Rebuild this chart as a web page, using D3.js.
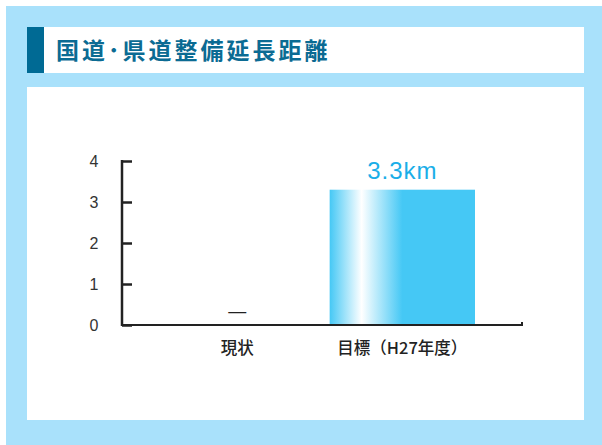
<!DOCTYPE html>
<html>
<head>
<meta charset="utf-8">
<script src="https://cdn.jsdelivr.net/npm/d3@7"></script>
<style>
  body { margin: 0; padding: 0; background: #fff; }
  svg { display: block; }
</style>
</head>
<body>
<div id="chart"></div>
<script>
// chart data
var categories = ["現状", "目標（H27年度）"];
var values = [0, 3.3];
var valueLabels = ["—", "3.3km"];
var yTicks = [0, 1, 2, 3, 4];
var title = "国道･県道整備延長距離";

var width = 602,
    height = 445;

var svg = d3.select("#chart").append("svg")
    .attr("width", width)
    .attr("height", height);

var defs = svg.append("defs");
var grad = defs.append("linearGradient")
    .attr("id", "barGrad")
    .attr("x1", "0%").attr("x2", "100%")
    .attr("y1", "0%").attr("y2", "0%");
grad.append("stop").attr("offset", "0%").attr("stop-color", "#45c8f5");
grad.append("stop").attr("offset", "22%").attr("stop-color", "#ffffff");
grad.append("stop").attr("offset", "50%").attr("stop-color", "#45c8f5");
grad.append("stop").attr("offset", "100%").attr("stop-color", "#45c8f5");

// frame
svg.append("rect")
    .attr("x", 6).attr("y", 6)
    .attr("width", width - 6).attr("height", height - 6)
    .style("fill", "#a9e1fb");

// title box
svg.append("rect")
    .attr("x", 27).attr("y", 27)
    .attr("width", 557).attr("height", 46)
    .style("fill", "#fff");
svg.append("rect")
    .attr("x", 27).attr("y", 27)
    .attr("width", 17).attr("height", 46)
    .style("fill", "#006a94");
svg.append("text")
    .attr("x", 56).attr("y", 49)
    .attr("dominant-baseline", "central")
    .style("font-family", "'Noto Sans CJK JP', sans-serif")
    .style("font-size", "23px")
    .style("font-weight", 700)
    .style("letter-spacing", "3px")
    .style("fill", "#0b6b93")
    .text(title);

// chart panel
svg.append("rect")
    .attr("x", 27).attr("y", 87)
    .attr("width", 557).attr("height", 333)
    .style("fill", "#fff");

var x = d3.scaleBand()
    .domain(categories)
    .range([164.5, 475])
    .paddingInner(0.12);

var y = d3.scaleLinear()
    .domain([0, 4])
    .range([325, 161]);

var g = svg.append("g");

// bars
g.selectAll(".bar").data(values)
  .enter().append("rect")
    .attr("class", "bar")
    .attr("x", function(d, i) { return x(categories[i]); })
    .attr("y", function(d) { return y(d); })
    .attr("width", x.bandwidth())
    .attr("height", function(d) { return y(0) - y(d); })
    .style("fill", "url(#barGrad)");

// value labels
g.selectAll(".val").data(values)
  .enter().append("text")
    .attr("class", "val")
    .attr("x", function(d, i) { return x(categories[i]) + x.bandwidth() / 2; })
    .attr("y", function(d, i) { return i === 0 ? y(d) - 8 : y(d) - 11; })
    .attr("text-anchor", "middle")
    .style("font-family", "'Liberation Sans', Arial, sans-serif")
    .style("font-size", function(d, i) { return i === 0 ? "18px" : "24px"; })
    .style("letter-spacing", function(d, i) { return i === 0 ? "0px" : "1px"; })
    .style("fill", function(d, i) { return i === 0 ? "#222" : "#1aaee8"; })
    .text(function(d, i) { return valueLabels[i]; });

// y axis
var yAxis = d3.axisRight(y).tickValues(yTicks).tickSize(10).tickFormat("");
var ya = g.append("g")
    .attr("transform", "translate(122,0)")
    .call(yAxis);
ya.select(".domain").remove();
ya.selectAll(".tick line").style("stroke", "#222").style("stroke-width", 2.5);

g.append("line")
    .attr("x1", 122).attr("x2", 122)
    .attr("y1", y(4) - 1).attr("y2", y(0) + 1)
    .style("stroke", "#222").style("stroke-width", 2.5);

g.selectAll(".ylab").data(yTicks)
  .enter().append("text")
    .attr("class", "ylab")
    .attr("x", 94)
    .attr("y", function(d) { return y(d); })
    .attr("dominant-baseline", "central")
    .attr("text-anchor", "middle")
    .style("font-family", "'Liberation Sans', Arial, sans-serif")
    .style("font-size", "16px")
    .style("fill", "#333")
    .text(function(d) { return d; });

// x axis
g.append("path")
    .attr("d", "M121," + y(0) + "H522V" + (y(0) - 3))
    .style("fill", "none")
    .style("stroke", "#222")
    .style("stroke-width", 2);

g.selectAll(".xlab").data(categories)
  .enter().append("text")
    .attr("class", "xlab")
    .attr("x", function(d) { return x(d) + x.bandwidth() / 2; })
    .attr("y", 347)
    .attr("dominant-baseline", "central")
    .attr("text-anchor", "middle")
    .style("font-family", "'Noto Sans CJK JP', sans-serif")
    .style("font-size", "16.5px")
    .style("font-weight", 500)
    .style("fill", "#222")
    .text(function(d) { return d; });
</script>
</body>
</html>
